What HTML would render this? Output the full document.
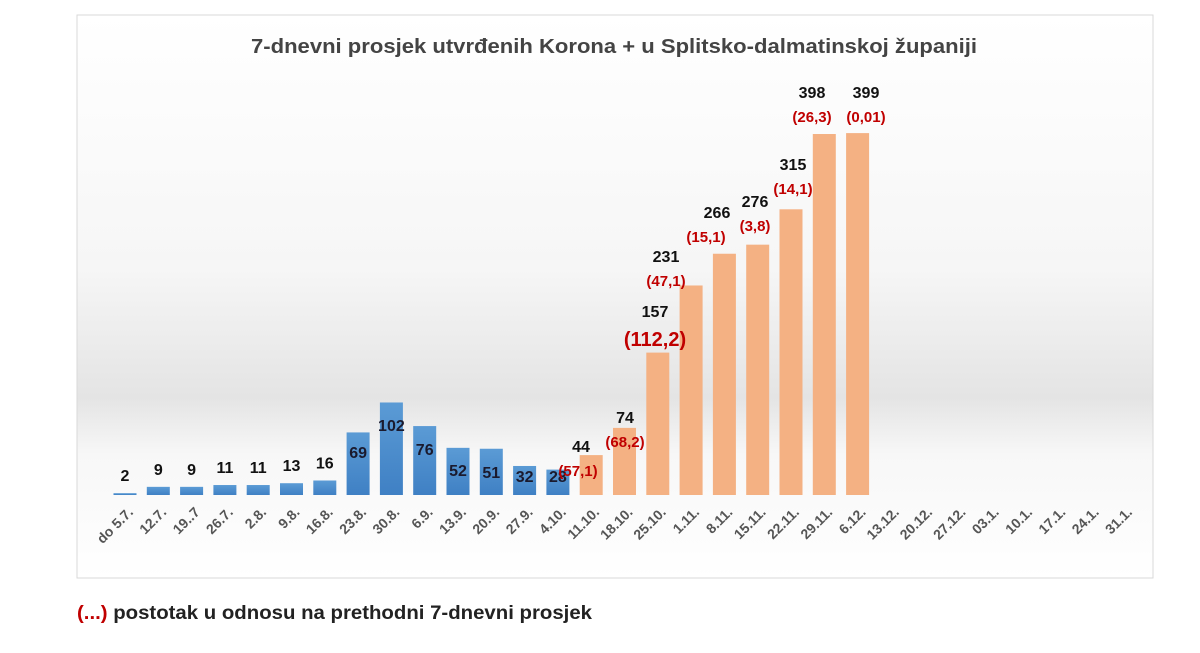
<!DOCTYPE html>
<html><head><meta charset="utf-8"><style>
body{margin:0;background:#fff;width:1200px;height:648px;overflow:hidden;font-family:"Liberation Sans",sans-serif}
</style></head><body>
<svg width="1200" height="648" xmlns="http://www.w3.org/2000/svg" font-family="Liberation Sans, sans-serif">
<defs>
<linearGradient id="bg" x1="0" y1="0" x2="0" y2="1">
<stop offset="0" stop-color="#ffffff"/>
<stop offset="0.45" stop-color="#f6f6f6"/>
<stop offset="0.68" stop-color="#e4e4e4"/>
<stop offset="0.78" stop-color="#f7f7f7"/>
<stop offset="1" stop-color="#ffffff"/>
</linearGradient>
<linearGradient id="bl" x1="0" y1="0" x2="0" y2="1"><stop offset="0" stop-color="#5b9bd5"/><stop offset="1" stop-color="#3f80c4"/></linearGradient>
</defs>
<rect x="77" y="15" width="1076" height="563" fill="url(#bg)" stroke="#d9d9d9"/>
<text x="614" y="53" text-anchor="middle" font-size="20" font-weight="bold" fill="#444" textLength="726" lengthAdjust="spacingAndGlyphs">7-dnevni prosjek utvrđenih Korona + u Splitsko-dalmatinskoj županiji</text>
<g id="bars"></g>
<g id="lab"></g>
<text x="77" y="619" font-size="19" font-weight="bold" fill="#222" textLength="515" lengthAdjust="spacingAndGlyphs"><tspan fill="#c00000">(...)</tspan> postotak u odnosu na prethodni 7-dnevni prosjek</text>
</svg>
<script>
var v=[2,9,9,11,11,13,16,69,102,76,52,51,32,28,44,74,157,231,266,276,315,398,399];
var inY={7:458,8:431,9:455,10:476,11:478,12:482,13:482};
var cats=["do 5.7.","12.7.","19..7","26.7.","2.8.","9.8.","16.8.","23.8.","30.8.","6.9.","13.9.","20.9.","27.9.","4.10.","11.10.","18.10.","25.10.","1.11.","8.11.","15.11.","22.11.","29.11.","6.12.","13.12.","20.12.","27.12.","03.1.","10.1.","17.1.","24.1.","31.1."];
var base=495,k=0.907,sp=33.3,x0=125,w=23;
var ns="http://www.w3.org/2000/svg";
var g=document.getElementById("bars"),L=document.getElementById("lab");
function t(x,y,s,fs,col,anchor,rot){var e=document.createElementNS(ns,"text");e.setAttribute("x",x);e.setAttribute("y",y);e.setAttribute("font-size",fs);e.setAttribute("font-weight","bold");e.setAttribute("fill",col);e.setAttribute("text-anchor",anchor||"middle");if(rot)e.setAttribute("transform","rotate(-45 "+x+" "+y+")");e.textContent=s;L.appendChild(e);}
for(var i=0;i<v.length;i++){var cx=x0+i*sp,h=Math.max(v[i]*k,1.5);var r=document.createElementNS(ns,"rect");r.setAttribute("x",cx-w/2);r.setAttribute("y",base-h);r.setAttribute("width",w);r.setAttribute("height",h);r.setAttribute("fill",i<14?"url(#bl)":"#f4b183");g.appendChild(r);
if(i<7)t(cx,base-h-12,v[i],16,"#111");else if(i<14)t(cx,inY[i],v[i],16,"#1a1a2e");}
for(var i=0;i<cats.length;i++){t(x0+i*sp+9,513,cats[i],14,"#555","end",true);}
var o=[[581,452,"44",578,476,"(57,1)",15],[625,423,"74",625,447,"(68,2)",15],[655,317,"157",655,346,"(112,2)",20],[666,262,"231",666,286,"(47,1)",15],[717,218,"266",706,242,"(15,1)",15],[755,207,"276",755,231,"(3,8)",15],[793,170,"315",793,194,"(14,1)",15],[812,98,"398",812,122,"(26,3)",15],[866,98,"399",866,122,"(0,01)",15]];
o.forEach(function(a){t(a[0],a[1],a[2],16,"#111");t(a[3],a[4],a[5],a[6],"#c00000");});
</script>
</body></html>
